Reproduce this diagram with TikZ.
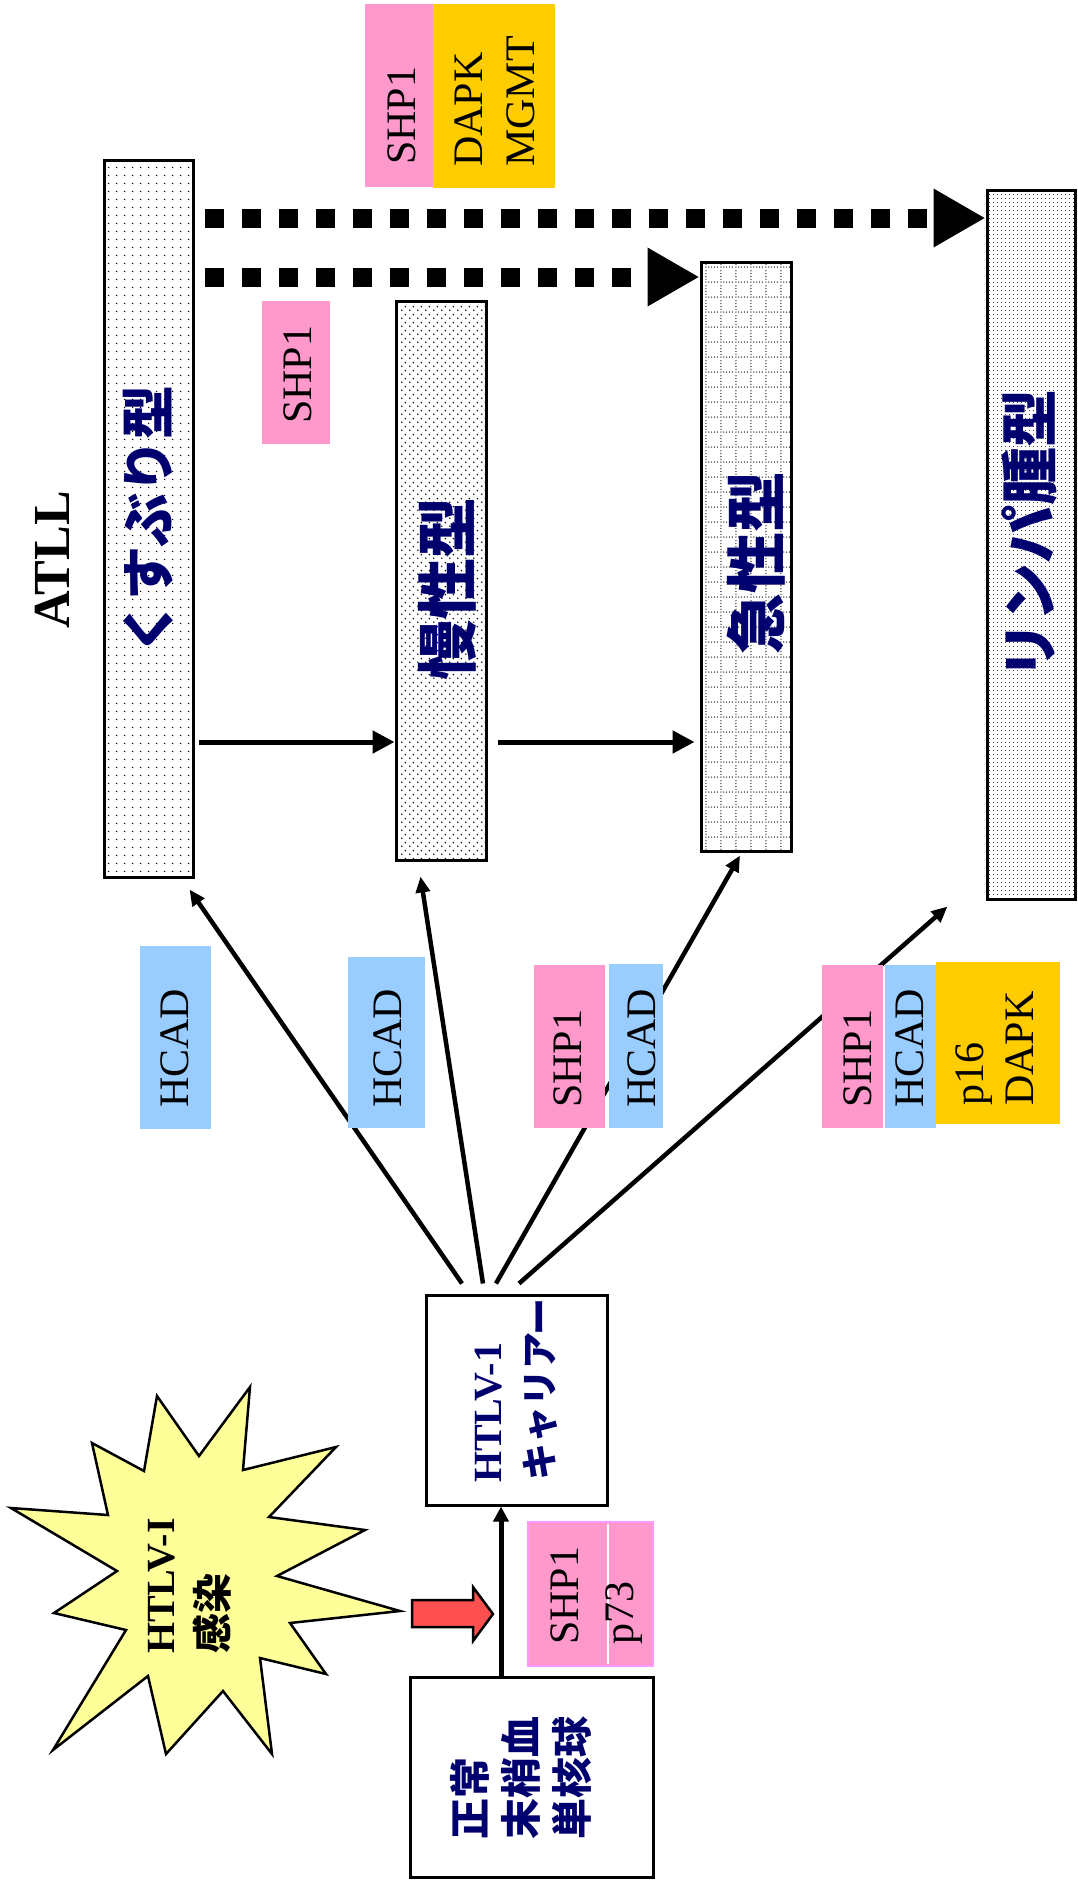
\documentclass[tikz,border=0pt]{standalone}
\usepackage{fontspec}
\setmainfont{Liberation Serif}
\newfontfamily\jp{Noto Sans CJK JP}
\usetikzlibrary{arrows.meta,calc,patterns,positioning}
\definecolor{shppink}{RGB}{255,153,204}
\definecolor{shpedge}{RGB}{255,153,255}
\definecolor{hcadblue}{RGB}{153,204,255}
\definecolor{dapkgold}{RGB}{255,204,0}
\definecolor{staryellow}{RGB}{255,255,153}
\definecolor{infectred}{RGB}{255,80,80}
\definecolor{atllnavy}{RGB}{0,0,110}
% fills of the four ATLL columns
\pgfdeclarepatternformonly{kusudots}{\pgfqpoint{0pt}{0pt}}{\pgfqpoint{7.5pt}{7.5pt}}{\pgfqpoint{7.5pt}{7.5pt}}%
{\pgfpathcircle{\pgfqpoint{3.75pt}{3.75pt}}{0.8pt}\pgfusepath{fill}}
\pgfdeclarepatternformonly{manseidots}{\pgfqpoint{0pt}{0pt}}{\pgfqpoint{8pt}{8pt}}{\pgfqpoint{8pt}{8pt}}%
{\pgfpathcircle{\pgfqpoint{2pt}{2pt}}{0.9pt}\pgfpathcircle{\pgfqpoint{6pt}{6pt}}{0.9pt}\pgfusepath{fill}}
\pgfdeclarepatternformonly{kyuseigrid}{\pgfqpoint{0pt}{0pt}}{\pgfqpoint{15pt}{15pt}}{\pgfqpoint{15pt}{15pt}}%
{\pgfpathcircle{\pgfqpoint{1pt}{1pt}}{0.7pt}\pgfpathcircle{\pgfqpoint{4pt}{1pt}}{0.7pt}%
\pgfpathcircle{\pgfqpoint{7pt}{1pt}}{0.7pt}\pgfpathcircle{\pgfqpoint{10pt}{1pt}}{0.7pt}%
\pgfpathcircle{\pgfqpoint{13pt}{1pt}}{0.7pt}\pgfpathcircle{\pgfqpoint{1pt}{4pt}}{0.7pt}%
\pgfpathcircle{\pgfqpoint{1pt}{7pt}}{0.7pt}\pgfpathcircle{\pgfqpoint{1pt}{10pt}}{0.7pt}%
\pgfpathcircle{\pgfqpoint{1pt}{13pt}}{0.7pt}\pgfusepath{fill}}
\pgfdeclarepatternformonly{lymphdots}{\pgfqpoint{0pt}{0pt}}{\pgfqpoint{4pt}{4pt}}{\pgfqpoint{4pt}{4pt}}%
{\pgfpathcircle{\pgfqpoint{2pt}{2pt}}{0.6pt}\pgfusepath{fill}}

\begin{document}
\begin{tikzpicture}[x=1pt,y=-1pt,
  stagebox/.style={draw,line width=3pt,inner sep=0pt},
  stagelabel/.style={rotate=90,inner sep=0pt,text=atllnavy,font=\jp\bfseries\fontsize{#1}{#1}\selectfont},
  jplabel/.style={rotate=90,anchor=west,inner sep=0pt,font=\jp\bfseries\fontsize{#1}{#1}\selectfont},
  serlabel/.style={rotate=90,anchor=west,inner sep=0pt,font=\bfseries\fontsize{#1}{#1}\selectfont},
  markbox/.style={fill=#1,inner sep=0pt},
  marklabel/.style={rotate=90,anchor=west,inner sep=0pt,font=\fontsize{42}{42}\selectfont},
  rayarrow/.style={line width=4.5pt,-{Triangle[length=16pt,width=14pt]}},
  steparrow/.style={line width=5pt,-{Triangle[length=22pt,width=22pt]}},
  dasharrow/.style={line width=19pt,dash pattern=on 19pt off 18pt,-{Triangle[length=52pt,width=55pt]}}]
\fill[white] (0,0) rectangle (1077,1888);
\useasboundingbox (0,0) rectangle (1077,1888);

% ATLL columns
\node[rotate=90,inner sep=0pt,font=\bfseries\fontsize{52}{52}\selectfont] (atll) at (52,560) {ATLL};
\node[stagebox,pattern=kusudots,minimum width=89pt,minimum height=717pt] (kusu) at (148.5,518.5) {};
\node[stagebox,pattern=manseidots,minimum width=90pt,minimum height=559pt] (mansei) at (441,580.5) {};
\node[stagebox,pattern=kyuseigrid,minimum width=90pt,minimum height=589pt] (kyusei) at (746,556.5) {};
\node[stagebox,pattern=lymphdots,minimum width=88pt,minimum height=709pt] (lymph) at (1031,544.5) {};
\node[stagelabel=54] (kusutext) at (148,520) {くすぶり型};
\node[stagelabel=61] (manseitext) at (447,589) {慢性型};
\node[stagelabel=61] (kyuseitext) at (756,563) {急性型};
\node[stagelabel=58] (lymphtext) at (1030,534) {リンパ腫型};

% progression between columns
\coordinate (stepy) at (0,742);
\coordinate (dashhi) at (0,218);
\coordinate (dashlo) at (0,277);
\draw[steparrow] ($(kusu.east |- stepy)+(4,0)$) -- (mansei.west |- stepy);
\draw[steparrow] ($(mansei.east |- stepy)+(10,0)$) -- ($(kyusei.west |- stepy)+(-5,0)$);
\draw[dasharrow] ($(kusu.east |- dashhi)+(10,0)$) -- (lymph.west |- dashhi);
\draw[dasharrow] ($(kusu.east |- dashlo)+(10,0)$) -- (kyusei.west |- dashlo);

% carrier and normal cells
\node[stagebox,minimum width=181pt,minimum height=210pt] (carrier) at (516.5,1400) {};
\node[stagebox,minimum width=243pt,minimum height=200pt] (normal) at (531.5,1777) {};
\node[serlabel=40,text=atllnavy] (carrierA) at (489,1483) {HTLV-1};
\node[jplabel=37,text=atllnavy] (carrierB) at (540,1481) {キャリアー};
\node[jplabel=41,text=atllnavy] (normalA) at (470,1840) {正常};
\node[jplabel=41,text=atllnavy] (normalB) at (521,1840) {末梢血};
\node[jplabel=41,text=atllnavy] (normalC) at (572,1840) {単核球};
\coordinate (feedx) at (501,0);
\draw[line width=5pt,-{Triangle[length=15pt,width=15pt]}] (normal.north -| feedx) -- (carrier.south -| feedx);

% infection
\draw[fill=staryellow,line width=2.5pt] (157,1396) -- (199,1456) -- (250,1387) -- (243,1470)
  -- (336,1447) -- (269,1517) -- (365,1530) -- (277,1576) -- (400,1611) -- (290,1623)
  -- (326,1674) -- (260,1658) -- (272,1754) -- (223,1691) -- (166,1754) -- (148,1676)
  -- (53,1750) -- (126,1630) -- (54,1613) -- (117,1571) -- (11,1508) -- (108,1515)
  -- (92,1443) -- (144,1471) -- cycle;
\node[serlabel=40] (starA) at (162,1654) {HTLV-I};
\node[jplabel=40] (starB) at (212,1654) {感染};
\draw[fill=infectred,line width=2.5pt] (412,1600) -- (473,1600) -- (473,1587) -- (493,1614)
  -- (473,1641) -- (473,1627) -- (412,1627) -- cycle;

% carrier to each type
\draw[rayarrow] ($(carrier.north)+(-54.5,-10)$) -- ($(kusu.south east)+(-5,11)$);
\draw[rayarrow] ($(carrier.north)+(-33.5,-10)$) -- ($(mansei.south west)+(26,15)$);
\draw[rayarrow] ($(carrier.north)+(-20.5,-10)$) -- ($(kyusei.south)+(-6,3)$);
\draw[rayarrow] ($(carrier.north)+(2.5,-10)$) -- ($(lymph.south west)+(-38,6)$);

% methylated genes
\node[markbox=shppink,minimum width=68pt,minimum height=183pt] (shptop) at (399,95.5) {};
\node[markbox=dapkgold,minimum width=122pt,minimum height=184pt] (goldtop) at (494,96) {};
\node[marklabel] (shptoptext) at (402,165) {SHP1};
\node[marklabel] (goldtopA) at (469,167) {DAPK};
\node[marklabel] (goldtopB) at (521,167) {MGMT};
\node[markbox=shppink,minimum width=68pt,minimum height=143pt] (shpmid) at (296,372.5) {};
\node[marklabel] (shpmidtext) at (298,424) {SHP1};
\node[markbox=hcadblue,minimum width=71pt,minimum height=183pt] (hcadA) at (175.5,1037.5) {};
\node[marklabel] (hcadAtext) at (175,1108) {HCAD};
\node[markbox=hcadblue,minimum width=77pt,minimum height=171pt] (hcadB) at (386.5,1042.5) {};
\node[marklabel] (hcadBtext) at (388,1108) {HCAD};
\node[markbox=shppink,minimum width=71pt,minimum height=163pt] (shpC) at (569.5,1046.5) {};
\node[markbox=hcadblue,minimum width=54pt,minimum height=164pt] (hcadC) at (636,1046) {};
\node[marklabel] (shpCtext) at (568,1108) {SHP1};
\node[marklabel] (hcadCtext) at (642,1108) {HCAD};
\node[markbox=shppink,minimum width=61pt,minimum height=163pt] (shpD) at (852.5,1046.5) {};
\node[markbox=hcadblue,minimum width=51pt,minimum height=163pt] (hcadD) at (910.5,1046.5) {};
\node[markbox=dapkgold,minimum width=124pt,minimum height=162pt] (goldD) at (998,1043) {};
\node[marklabel] (shpDtext) at (858,1108) {SHP1};
\node[marklabel] (hcadDtext) at (910,1108) {HCAD};
\node[marklabel] (goldDA) at (974,1106) {p16};
\node[marklabel] (goldDB) at (1020,1106) {DAPK};
\node[markbox=shppink,draw=shpedge,line width=2pt,minimum width=125pt,minimum height=144pt] (shpfeed) at (590.5,1594) {};
\draw[white,line width=1.5pt] ($(shpfeed.north)+(17.5,3)$) -- ($(shpfeed.south)+(17.5,-3)$);
\node[marklabel] (shpfeedA) at (565,1645) {SHP1};
\node[marklabel] (shpfeedB) at (624,1645) {p73};
\end{tikzpicture}
\end{document}
